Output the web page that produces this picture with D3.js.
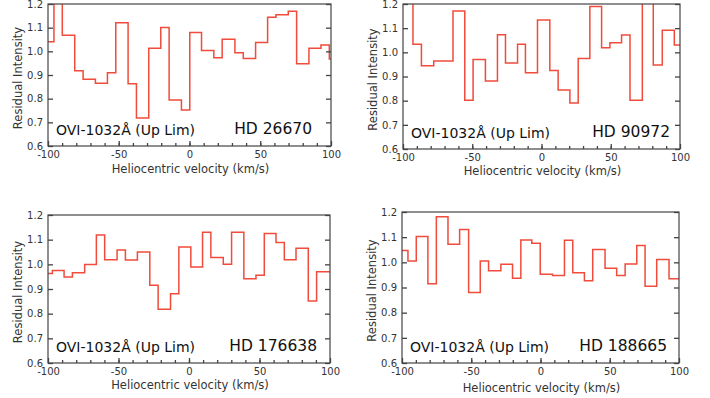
<!DOCTYPE html>
<html>
<head>
<meta charset="utf-8">
<script src="https://cdn.jsdelivr.net/npm/d3@7"></script>
<style>
body { margin: 0; background: #fff; }
svg { display: block; font-family: "DejaVu Sans", sans-serif; }
</style>
</head>
<body>
<svg width="710" height="398"></svg>
<script>
// bin edges (km/s) and residual intensity per bin
var hd26670Edges = [-100, -95.8, -89.9, -81.1, -75.2, -66.5, -58.0, -52.1, -43.4, -37.5, -28.8, -20.3, -14.4, -5.7, 0.2, 8.5, 17.2, 23.1, 32.1, 38.0, 46.7, 55.2, 61.1, 69.8, 75.7, 84.4, 92.9, 98.8, 100];
var hd26670Vals = [1.041, 1.25, 1.068, 0.918, 0.882, 0.865, 0.910, 1.121, 0.863, 0.718, 1.013, 1.101, 0.794, 0.752, 1.080, 1.003, 0.973, 1.051, 0.994, 0.970, 1.037, 1.144, 1.155, 1.169, 0.948, 1.013, 1.027, 0.968];

var hd90972Edges = [-100, -92.8, -86.7, -77.8, -71.8, -63.9, -55.4, -49.4, -40.5, -31.8, -26.0, -17.3, -11.6, -2.9, 6.0, 12.0, 20.5, 26.5, 34.9, 43.4, 49.4, 57.8, 63.9, 72.8, 80.7, 87.2, 95.9, 100];
var hd90972Vals = [1.25, 1.033, 0.945, 0.964, 0.964, 1.171, 0.802, 0.970, 0.881, 1.073, 0.956, 1.033, 0.916, 1.134, 0.925, 0.844, 0.790, 0.974, 1.190, 1.019, 1.040, 1.072, 0.802, 1.25, 0.948, 1.091, 1.030];

var hd176638Edges = [-100, -96.9, -88.6, -82.7, -74.0, -65.7, -59.8, -51.0, -45.1, -36.6, -27.8, -21.9, -13.1, -7.2, 1.3, 9.6, 15.5, 24.3, 30.2, 38.9, 47.5, 53.4, 61.7, 67.6, 75.9, 84.6, 90.5, 100];
var hd176638Vals = [0.963, 0.975, 0.949, 0.966, 0.999, 1.119, 1.019, 1.058, 1.018, 1.050, 0.915, 0.818, 0.881, 1.070, 0.989, 1.130, 1.028, 1.000, 1.130, 0.942, 0.956, 1.125, 1.089, 1.019, 1.065, 0.851, 0.970];

var hd188665Edges = [-100, -95.7, -89.7, -81.3, -75.2, -66.8, -58.4, -51.9, -43.5, -37.5, -28.6, -20.2, -14.2, -6.3, -0.2, 8.7, 17.3, 23.3, 31.7, 37.7, 46.6, 55.0, 61.1, 69.5, 75.5, 83.9, 92.8, 100];
var hd188665Vals = [1.047, 1.005, 1.103, 0.915, 1.181, 1.072, 1.130, 0.880, 1.005, 0.967, 0.992, 0.937, 1.089, 1.076, 0.953, 0.948, 1.088, 0.959, 0.927, 1.051, 0.976, 0.948, 0.993, 1.067, 0.905, 1.011, 0.935];

var starNames = ["HD 26670", "HD 90972", "HD 176638", "HD 188665"];
var lineLabel = "OVI-1032Å (Up Lim)";
var xTickVals = [-100, -50, 0, 50, 100];
var yTickVals = [0.6, 0.7, 0.8, 0.9, 1.0, 1.1, 1.2];

// panel boxes on the page: left, top, right, bottom, x-title baseline offset, HD label right inset
var layout = [
  {l: 48, t: 4, r: 331, b: 146, xt: 27, hd: 19},
  {l: 403, t: 4, r: 680, b: 149, xt: 26, hd: 10},
  {l: 48, t: 215, r: 330, b: 363, xt: 26, hd: 13},
  {l: 402, t: 212, r: 679, b: 363, xt: 29, hd: 12}
];

var series = [
  {edges: hd26670Edges, vals: hd26670Vals},
  {edges: hd90972Edges, vals: hd90972Vals},
  {edges: hd176638Edges, vals: hd176638Vals},
  {edges: hd188665Edges, vals: hd188665Vals}
];

var svg = d3.select("svg");

series.forEach(function(s, i) {
  var box = layout[i],
    w = box.r - box.l,
    h = box.b - box.t;

  var x = d3.scaleLinear().domain([-100, 100]).range([0, w]);
  var y = d3.scaleLinear().domain([0.6, 1.2]).range([h, 0]);

  var g = svg.append("g")
    .attr("transform", "translate(" + box.l + "," + box.t + ")");

  g.append("clipPath")
    .attr("id", "clip" + i)
    .append("rect")
    .attr("width", w)
    .attr("height", h);

  // step spectrum
  var pts = s.vals.map(function(v, k) { return [s.edges[k], v]; });
  pts.push([s.edges[s.edges.length - 1], s.vals[s.vals.length - 1]]);

  var line = d3.line()
    .x(function(d) { return x(d[0]); })
    .y(function(d) { return y(d[1]); })
    .curve(d3.curveStepAfter);

  g.append("path")
    .datum(pts)
    .attr("clip-path", "url(#clip" + i + ")")
    .attr("d", line)
    .style("fill", "none")
    .style("stroke", "#f04b3b")
    .style("stroke-width", 1.5);

  // axes, ticks pointing inward
  var left = g.append("g")
    .call(d3.axisLeft(y).tickValues(yTickVals).tickSize(-5).tickPadding(5).tickFormat(d3.format(".1f")));
  var right = g.append("g")
    .attr("transform", "translate(" + w + ",0)")
    .call(d3.axisRight(y).tickValues(yTickVals).tickSize(-5).tickFormat(""));
  var minor = g.append("g")
    .attr("transform", "translate(0," + h + ")")
    .call(d3.axisBottom(x).tickValues(d3.range(-90, 100, 10)).tickSize(-3).tickFormat(""));
  var bottom = g.append("g")
    .attr("transform", "translate(0," + h + ")")
    .call(d3.axisBottom(x).tickValues(xTickVals).tickSize(-5).tickPadding(5).tickFormat(d3.format("d")));

  [left, right, minor, bottom].forEach(function(a) {
    a.select(".domain").remove();
    a.selectAll("line").style("stroke", "#444").style("stroke-width", 1.3);
    a.selectAll("text")
      .style("font-family", "DejaVu Sans, sans-serif")
      .style("font-size", "10px")
      .style("fill", "#333");
  });
  bottom.selectAll("text").text(function(d) { return d3.format("d")(d).replace("−", "-"); });

  g.append("rect")
    .attr("width", w)
    .attr("height", h)
    .style("fill", "none")
    .style("stroke", "#444")
    .style("stroke-width", 1.2);

  g.append("text")
    .attr("x", w / 2 + 1)
    .attr("y", h + box.xt)
    .attr("text-anchor", "middle")
    .style("font-size", "11.5px")
    .style("fill", "#333")
    .text("Heliocentric velocity (km/s)");

  g.append("text")
    .attr("transform", "translate(-26," + (h / 2 + 3) + ")rotate(-90)")
    .attr("text-anchor", "middle")
    .style("font-size", "11.5px")
    .style("fill", "#333")
    .text("Residual Intensity");

  g.append("text")
    .attr("x", 8)
    .attr("y", h - 11)
    .style("font-size", "14px")
    .style("fill", "#111")
    .text(lineLabel);

  g.append("text")
    .attr("x", w - box.hd)
    .attr("y", h - 12)
    .attr("text-anchor", "end")
    .style("font-size", "15.5px")
    .style("fill", "#111")
    .text(starNames[i]);
});
</script>
</body>
</html>
